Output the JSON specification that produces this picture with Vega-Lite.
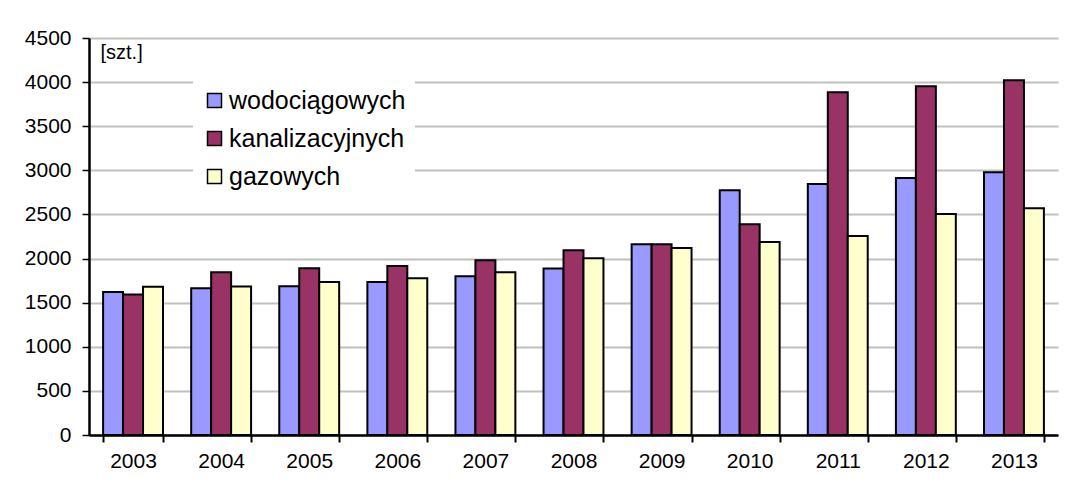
{
  "$schema": "https://vega.github.io/schema/vega-lite/v6.json",
  "width": 969,
  "height": 397,
  "autosize": "none",
  "padding": {"left": 89, "top": 38, "right": 21, "bottom": 56},
  "background": "white",
  "config": {"view": {"stroke": null}, "font": "Liberation Sans"},
  "data": {
    "values": [
      {"year": "2003", "type": "wodociągowych", "value": 1620},
      {"year": "2003", "type": "kanalizacyjnych", "value": 1592},
      {"year": "2003", "type": "gazowych", "value": 1680},
      {"year": "2004", "type": "wodociągowych", "value": 1662},
      {"year": "2004", "type": "kanalizacyjnych", "value": 1845},
      {"year": "2004", "type": "gazowych", "value": 1684},
      {"year": "2005", "type": "wodociągowych", "value": 1685},
      {"year": "2005", "type": "kanalizacyjnych", "value": 1890},
      {"year": "2005", "type": "gazowych", "value": 1735},
      {"year": "2006", "type": "wodociągowych", "value": 1735},
      {"year": "2006", "type": "kanalizacyjnych", "value": 1916},
      {"year": "2006", "type": "gazowych", "value": 1776},
      {"year": "2007", "type": "wodociągowych", "value": 1799},
      {"year": "2007", "type": "kanalizacyjnych", "value": 1980},
      {"year": "2007", "type": "gazowych", "value": 1845},
      {"year": "2008", "type": "wodociągowych", "value": 1886},
      {"year": "2008", "type": "kanalizacyjnych", "value": 2094},
      {"year": "2008", "type": "gazowych", "value": 2003},
      {"year": "2009", "type": "wodociągowych", "value": 2162},
      {"year": "2009", "type": "kanalizacyjnych", "value": 2162},
      {"year": "2009", "type": "gazowych", "value": 2120},
      {"year": "2010", "type": "wodociągowych", "value": 2774},
      {"year": "2010", "type": "kanalizacyjnych", "value": 2389},
      {"year": "2010", "type": "gazowych", "value": 2188},
      {"year": "2011", "type": "wodociągowych", "value": 2846},
      {"year": "2011", "type": "kanalizacyjnych", "value": 3885},
      {"year": "2011", "type": "gazowych", "value": 2256},
      {"year": "2012", "type": "wodociągowych", "value": 2914},
      {"year": "2012", "type": "kanalizacyjnych", "value": 3953},
      {"year": "2012", "type": "gazowych", "value": 2506},
      {"year": "2013", "type": "wodociągowych", "value": 2978},
      {"year": "2013", "type": "kanalizacyjnych", "value": 4021},
      {"year": "2013", "type": "gazowych", "value": 2570}
    ]
  },
  "mark": {"type": "bar", "stroke": "black", "strokeWidth": 2},
  "encoding": {
    "x": {
      "field": "year",
      "type": "nominal",
      "scale": {"paddingInner": 0.32, "paddingOuter": 0.16},
      "axis": {
        "title": null,
        "labelAngle": 0,
        "tickBand": "extent",
        "domainColor": "black",
        "domainWidth": 2.5,
        "tickColor": "black",
        "tickWidth": 2,
        "tickSize": 7,
        "labelFontSize": 21,
        "labelColor": "black",
        "labelPadding": 8,
        "grid": false
      }
    },
    "xOffset": {
      "field": "type",
      "type": "nominal",
      "sort": ["wodociągowych", "kanalizacyjnych", "gazowych"],
      "scale": {"paddingInner": 0, "paddingOuter": 0}
    },
    "y": {
      "field": "value",
      "type": "quantitative",
      "scale": {"domain": [0, 4500], "nice": false},
      "axis": {
        "values": [0, 500, 1000, 1500, 2000, 2500, 3000, 3500, 4000, 4500],
        "format": "d",
        "title": "[szt.]",
        "titleAngle": 0,
        "titleX": 11,
        "titleY": 14,
        "titleAlign": "left",
        "titleBaseline": "middle",
        "titleFontWeight": "normal",
        "titleFontSize": 20,
        "titleColor": "black",
        "gridColor": "#c0c0c0",
        "gridWidth": 2,
        "domainColor": "black",
        "domainWidth": 2.5,
        "tickColor": "black",
        "tickWidth": 1.5,
        "tickSize": 7,
        "labelFontSize": 21,
        "labelColor": "black",
        "labelPadding": 11
      }
    },
    "color": {
      "field": "type",
      "type": "nominal",
      "sort": ["wodociągowych", "kanalizacyjnych", "gazowych"],
      "scale": {
        "domain": ["wodociągowych", "kanalizacyjnych", "gazowych"],
        "range": ["#9999FF", "#993366", "#FFFFCC"]
      },
      "legend": {
        "orient": "none",
        "legendX": 104,
        "legendY": 41,
        "title": null,
        "fillColor": "white",
        "padding": 9,
        "symbolType": "square",
        "symbolSize": 196,
        "symbolStrokeColor": "black",
        "symbolStrokeWidth": 1.5,
        "labelFontSize": 25,
        "labelColor": "black",
        "labelLimit": 400,
        "labelOffset": 2,
        "rowPadding": 12
      }
    }
  }
}
